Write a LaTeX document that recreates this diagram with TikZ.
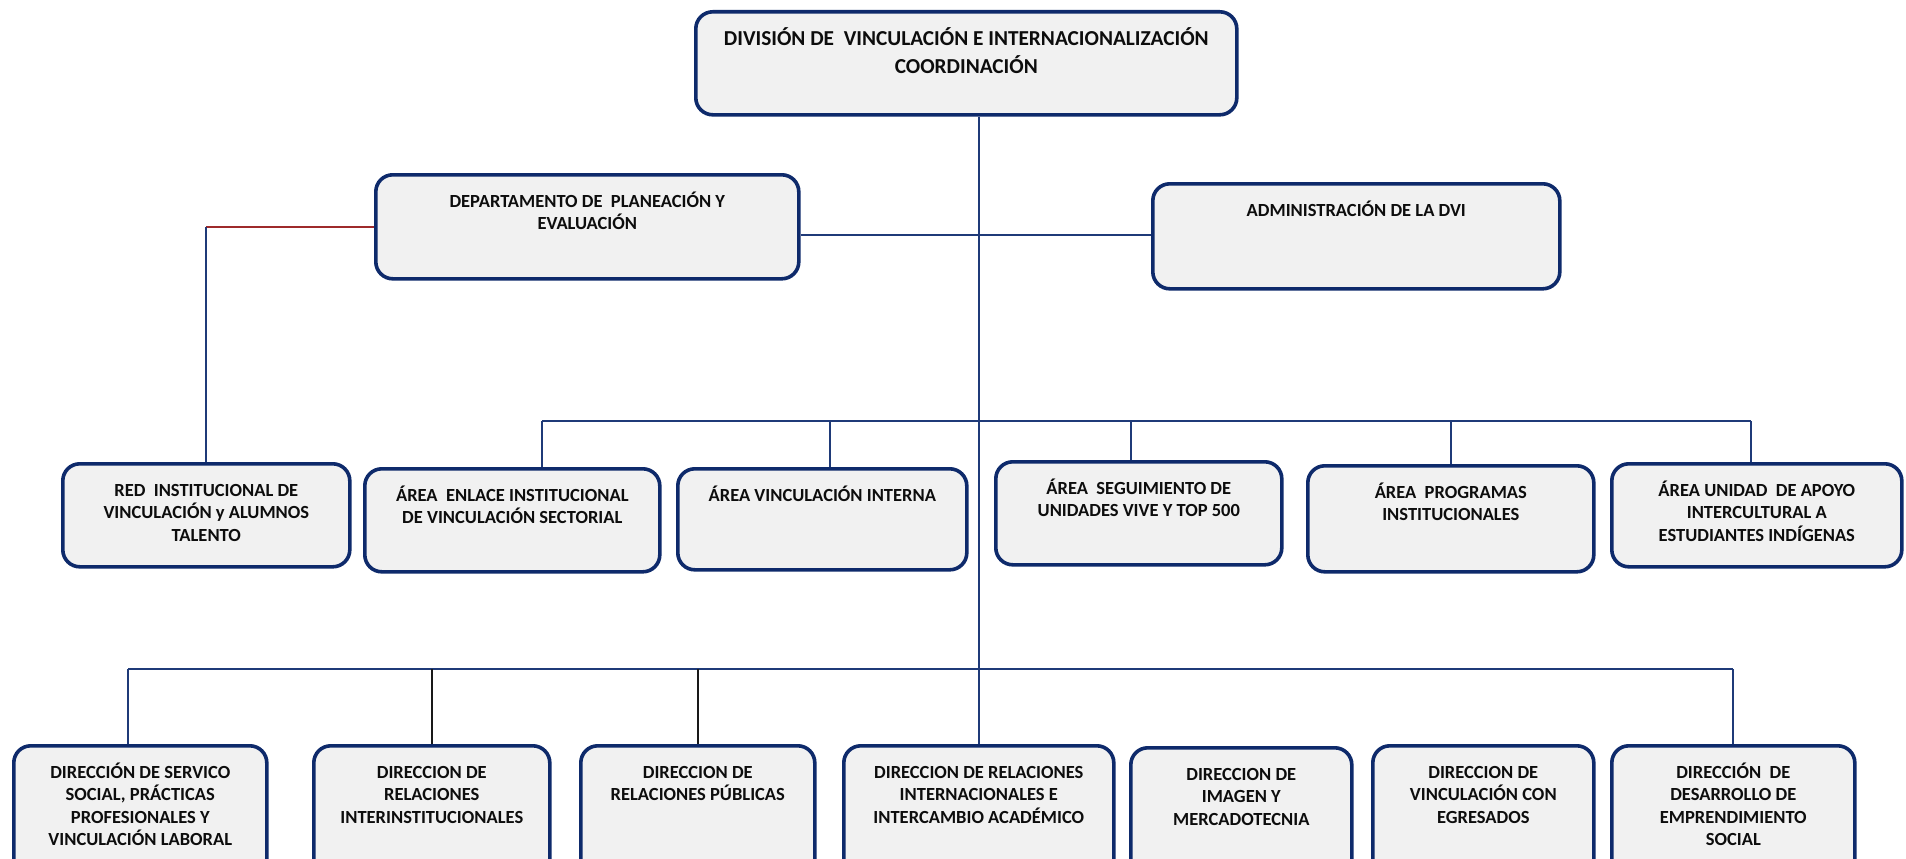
\documentclass[tikz,border=0pt]{standalone}
\usepackage{fontspec}
\setmainfont{Carlito}
\definecolor{boxblue}{HTML}{0E2A6B}
\definecolor{boxfill}{HTML}{F1F1F1}
\definecolor{lineblue}{HTML}{1F3A78}
\definecolor{linered}{HTML}{9E2A2B}
\newcommand{\fl}{\rule{0pt}{17pt}}
\newcommand{\orgbox}[6]{%
  \node[box, minimum width=#4-#2, minimum height=#5-#3] (#1) at (#2,#3) {};
  \node[lbl] (#1-t) at ([yshift=-17pt]#1.north) {\fl#6};
}
\begin{document}
\begin{tikzpicture}[x=1pt,y=-1pt,
  box/.style={draw=boxblue, line width=3.6pt, fill=boxfill, rounded corners=17pt, anchor=north west, inner sep=0pt},
  lbl/.style={anchor=north, align=center, inner sep=0pt, font=\bfseries\fontsize{18.5}{22.5}\selectfont, text=black!95},
  conn/.style={draw=lineblue, line width=1.8pt},
  connk/.style={draw=black!90, line width=1.8pt},
  connr/.style={draw=linered, line width=1.8pt}]
\useasboundingbox (0,0) rectangle (1906,859);
\fill[white] (0,0) rectangle (1906,859);
\clip (0,0) rectangle (1906,859);

% top box
\node[box, minimum width=541, minimum height=103] (top) at (694,10) {};
\node[lbl, font=\bfseries\fontsize{21.3}{28}\selectfont] (top-t) at ([yshift=-17pt]top.north) {\fl DIVISIÓN DE~ VINCULACIÓN E INTERNACIONALIZACIÓN\\COORDINACIÓN};

\orgbox{dept}{374}{173}{797}{277}{DEPARTAMENTO DE~ PLANEACIÓN Y\\EVALUACIÓN}
\orgbox{admin}{1151}{182}{1558}{287}{ADMINISTRACIÓN DE LA DVI}

\orgbox{red}{61}{462}{348}{565}{RED~ INSTITUCIONAL DE\\VINCULACIÓN y ALUMNOS\\TALENTO}
\orgbox{enl}{363}{467}{658}{570}{ÁREA~ ENLACE INSTITUCIONAL\\DE VINCULACIÓN SECTORIAL}
\orgbox{vin}{676}{467}{965}{568}{ÁREA VINCULACIÓN INTERNA}
\orgbox{seg}{994}{460}{1280}{563}{ÁREA~ SEGUIMIENTO DE\\UNIDADES VIVE Y TOP 500}
\orgbox{prog}{1306}{464}{1592}{570}{ÁREA~ PROGRAMAS\\INSTITUCIONALES}
\orgbox{uni}{1610}{462}{1900}{565}{ÁREA UNIDAD~ DE APOYO\\INTERCULTURAL A\\ESTUDIANTES INDÍGENAS}

\orgbox{b1}{12}{744}{265}{880}{DIRECCIÓN DE SERVICO\\SOCIAL, PRÁCTICAS\\PROFESIONALES Y\\VINCULACIÓN LABORAL}
\orgbox{b2}{312}{744}{548}{880}{DIRECCION DE\\RELACIONES\\INTERINSTITUCIONALES}
\orgbox{b3}{579}{744}{813}{880}{DIRECCION DE\\RELACIONES PÚBLICAS}
\orgbox{b4}{842}{744}{1112}{880}{DIRECCION DE RELACIONES\\INTERNACIONALES E\\INTERCAMBIO ACADÉMICO}
\orgbox{b5}{1129}{746}{1350}{880}{DIRECCION DE\\IMAGEN Y\\MERCADOTECNIA}
\orgbox{b6}{1371}{744}{1592}{880}{DIRECCION DE\\VINCULACIÓN CON\\EGRESADOS}
\orgbox{b7}{1610}{744}{1853}{880}{DIRECCIÓN~ DE\\DESARROLLO DE\\EMPRENDIMIENTO\\SOCIAL}

% bus coordinates
\coordinate (mbus) at (979,421);
\coordinate (bbus) at (979,669);
\coordinate (sbus) at (979,235);

% trunk
\draw[conn] (top.south -| b4.north) -- (b4.north);
% staff line
\draw[conn] (dept.east |- sbus) -- (sbus) -- (admin.west |- sbus);
% red link
\draw[connr] (dept.west) -- (dept.west -| red.north);
\draw[conn] (dept.west -| red.north) -- (red.north);

% middle bus
\draw[conn] ([xshift=30pt]enl.north |- mbus) -- ([xshift=-6pt]uni.north |- mbus);
\draw[conn] ([xshift=30pt]enl.north |- mbus) -- ([xshift=30pt]enl.north);
\draw[conn] ([xshift=8pt]vin.north |- mbus) -- ([xshift=8pt]vin.north);
\draw[conn] ([xshift=-8pt]seg.north |- mbus) -- ([xshift=-8pt]seg.north);
\draw[conn] (prog.north |- mbus) -- (prog.north);
\draw[conn] ([xshift=-6pt]uni.north |- mbus) -- ([xshift=-6pt]uni.north);

% bottom bus
\draw[conn] ([xshift=-12pt]b1.north |- bbus) -- (b7.north |- bbus);
\draw[conn] ([xshift=-12pt]b1.north |- bbus) -- ([xshift=-12pt]b1.north);
\draw[connk] (b2.north |- bbus) -- (b2.north);
\draw[connk] (b3.north |- bbus) -- (b3.north);
\draw[conn] (b7.north |- bbus) -- (b7.north);
\end{tikzpicture}
\end{document}
